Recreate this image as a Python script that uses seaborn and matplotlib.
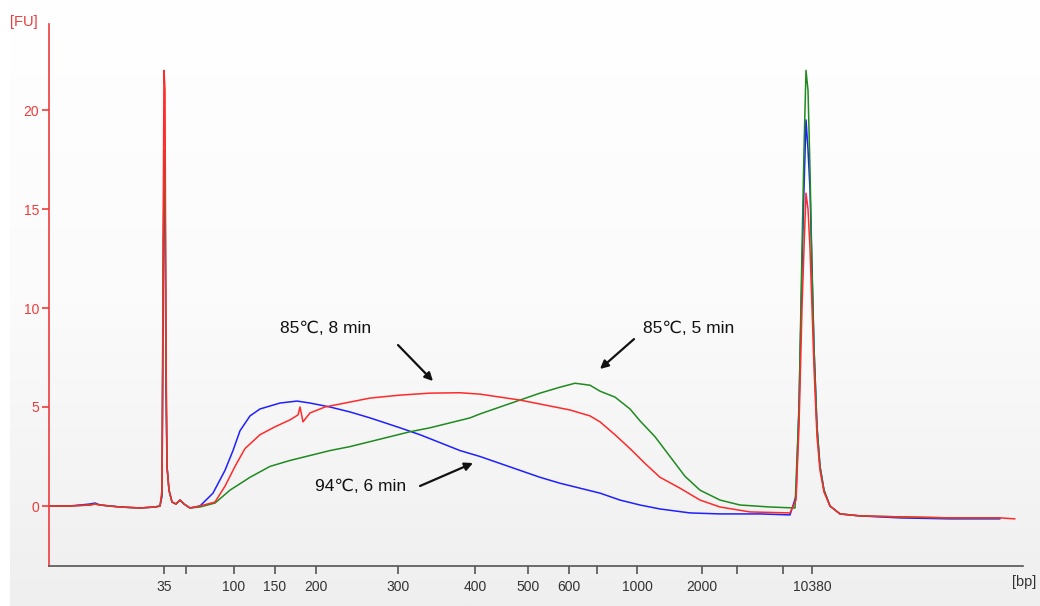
import numpy as np
import pandas as pd
import matplotlib
matplotlib.use("Agg")
import matplotlib.pyplot as plt
import seaborn as sns

sns.set_theme(style="white")
plt.rcParams['font.family'] = ['Liberation Sans', 'DejaVu Sans']

# migration position (arbitrary units) and fluorescence [FU]
blue_x = [49, 70, 90, 95, 100, 120, 140, 155, 160, 162, 163, 164, 165, 166, 167, 169, 172, 176, 180, 184, 190, 200,
          213, 225, 233, 240, 250, 260, 280, 297, 310, 330, 350, 370, 400, 420, 440, 460, 480, 500, 520, 540, 560,
          580, 600, 620, 640, 660, 690, 720, 760, 790, 796, 799, 802, 804, 806, 808, 810, 812, 814, 817,
          820, 824, 830, 840, 860, 900, 950, 1000]
blue_y = [0, 0, 0.1, 0.15, 0.05, -0.05, -0.1, -0.05, 0, 0.5, 9, 17, 16.5, 6, 2, 0.8, 0.2, 0.1, 0.3, 0.1, -0.1, 0,
          0.65, 1.8, 2.8, 3.8, 4.55, 4.9, 5.2, 5.3, 5.2, 5.0, 4.75, 4.45, 3.95, 3.6, 3.2, 2.8, 2.5, 2.15, 1.8, 1.45,
          1.15, 0.9, 0.65, 0.3, 0.05, -0.15, -0.35, -0.4, -0.4, -0.45, 0.5, 5, 12, 16, 19.5, 18, 16, 12, 8, 4,
          2, 0.8, 0, -0.4, -0.5, -0.6, -0.65, -0.65]

red_x = [49, 70, 90, 95, 100, 120, 140, 155, 160, 162, 163, 164, 165, 166, 167, 169, 172, 176, 180, 184, 190, 200,
         215, 225, 235, 245, 260, 275, 290, 298, 300, 303, 310, 325, 345, 370, 400, 430, 460, 480, 500, 520, 545,
         570, 590, 600, 615, 630, 645, 660, 680, 700, 720, 750, 790, 796, 799, 802, 804, 806, 808, 810, 812, 814,
         817, 820, 824, 830, 840, 860, 900, 950, 1000, 1015]
red_y = [0, 0, 0.05, 0.1, 0.05, -0.05, -0.1, -0.05, 0, 0.8, 12, 22, 21, 8, 2, 0.8, 0.2, 0.1, 0.3, 0.1, -0.1, 0,
         0.2, 1.0, 2.0, 2.9, 3.6, 4.0, 4.35, 4.6, 5.0, 4.25, 4.7, 5.0, 5.2, 5.45, 5.6, 5.7, 5.72, 5.65, 5.5, 5.35,
         5.1, 4.85, 4.55, 4.25, 3.6, 2.9, 2.15, 1.45, 0.9, 0.3, -0.05, -0.3, -0.35, 0.3, 4, 10, 13, 15.8, 15, 13,
         10, 7, 3.5, 1.8, 0.7, 0, -0.4, -0.5, -0.55, -0.6, -0.6, -0.65]

green_x = [49, 70, 90, 95, 100, 120, 140, 155, 160, 162, 163, 164, 165, 166, 167, 169, 172, 176, 180, 184, 190, 200,
           215, 230, 250, 270, 290, 310, 330, 350, 370, 390, 410, 430, 450, 470, 480, 500, 520, 540, 560, 575, 590,
           600, 615, 630, 640, 655, 670, 685, 700, 720, 740, 770, 795, 799, 802, 804, 806, 808, 810, 812, 814, 817,
           820, 824, 830, 840, 860, 900, 950, 1000]
green_y = [0, 0, 0.05, 0.1, 0.05, -0.05, -0.1, -0.05, 0, 0.6, 10, 18, 17.5, 7, 2, 0.8, 0.2, 0.1, 0.3, 0.1, -0.1,
           -0.05, 0.15, 0.8, 1.45, 2.0, 2.3, 2.55, 2.8, 3.0, 3.25, 3.5, 3.75, 3.95, 4.2, 4.45, 4.65, 5.0, 5.35, 5.7,
           6.0, 6.2, 6.1, 5.8, 5.5, 4.9, 4.3, 3.5, 2.5, 1.5, 0.8, 0.3, 0.05, -0.05, -0.1, 5, 13, 18, 22, 21, 17,
           12, 8, 4, 2, 0.8, 0, -0.4, -0.5, -0.55, -0.6, -0.6]

tick_positions = [164, 186, 234, 275, 316, 398, 475, 528, 569, 597, 637, 702, 737, 783, 812]
tick_labels = ['35', '', '100', '150', '200', '300', '400', '500', '600', '', '1000', '2000', '', '', '10380']

annotations = [
    ("85\u2103, 8 min", (280, 8.97), (398, 8.13), (433, 6.31)),
    ("85\u2103, 5 min", (643, 8.97), (634, 8.43), (600, 6.92)),
    ("94\u2103, 6 min", (315, 1.01), (420, 1.01), (473, 2.17)),
]

W, H = 1040, 606
fig = plt.figure(figsize=(W / 100, H / 100), dpi=100)
fig.patch.set_facecolor('white')

# background gradient panel
bg = fig.add_axes([10 / W, 0, 1 - 10 / W, 1], zorder=-5)
grad = np.linspace(0, 1, 256).reshape(-1, 1)
bg.imshow(grad, aspect='auto', cmap=matplotlib.colors.LinearSegmentedColormap.from_list(
    'g', ['#ffffff', '#fbfbfb', '#efefef']), extent=[0, 1, 0, 1], origin='upper')
bg.axis('off')

ax = fig.add_axes([49 / W, 40 / H, (1023 - 49) / W, (566 - 24) / H])
ax.set_facecolor('none')

for xs, ys, col in [(blue_x, blue_y, '#1f1fff'), (green_x, green_y, '#1f8a1f'), (red_x, red_y, '#ff2a2a')]:
    df = pd.DataFrame({'x': xs, 'y': ys})
    sns.lineplot(data=df, x='x', y='y', color=col, linewidth=1.1, ax=ax, estimator=None)

ax.set_xlim(49, 1023)
ax.set_ylim((506 - 566) / 19.8, (506 - 24) / 19.8)
ax.set_xlabel('')
ax.set_ylabel('')

ax.set_yticks([0, 5, 10, 15, 20])
ax.set_yticklabels(['0', '5', '10', '15', '20'])
ax.set_xticks(tick_positions)
ax.set_xticklabels(tick_labels)

red_axis = '#ee3b3b'
for s in ['top', 'right']:
    ax.spines[s].set_visible(False)
ax.spines['left'].set_color(red_axis)
ax.spines['left'].set_linewidth(1.2)
ax.spines['bottom'].set_color('#555555')
ax.spines['bottom'].set_linewidth(1.2)
ax.tick_params(axis='y', colors=red_axis, labelcolor=red_axis, direction='out', length=5, width=1.2,
               labelsize=10, pad=2, left=True)
ax.tick_params(axis='x', colors='#555555', labelcolor='#333333', direction='out', length=6, width=1.2,
               labelsize=10, pad=4, bottom=True)

fig.text(10 / W, 1 - 22 / H, '[FU]', color=red_axis, fontsize=10.5, va='center', ha='left')
fig.text(1036 / W, 1 - 582 / H, '[bp]', color='#333333', fontsize=10.5, va='center', ha='right')

for label, tpos, tail, tip in annotations:
    ax.text(tpos[0], tpos[1], label, fontsize=12.5, color='#111111', va='center', ha='left')
    ax.annotate('', xy=tip, xytext=tail,
                arrowprops=dict(arrowstyle='-|>', color='#111111', lw=1.6, mutation_scale=12,
                                shrinkA=0, shrinkB=0))

fig.savefig('out.png', dpi=100)
